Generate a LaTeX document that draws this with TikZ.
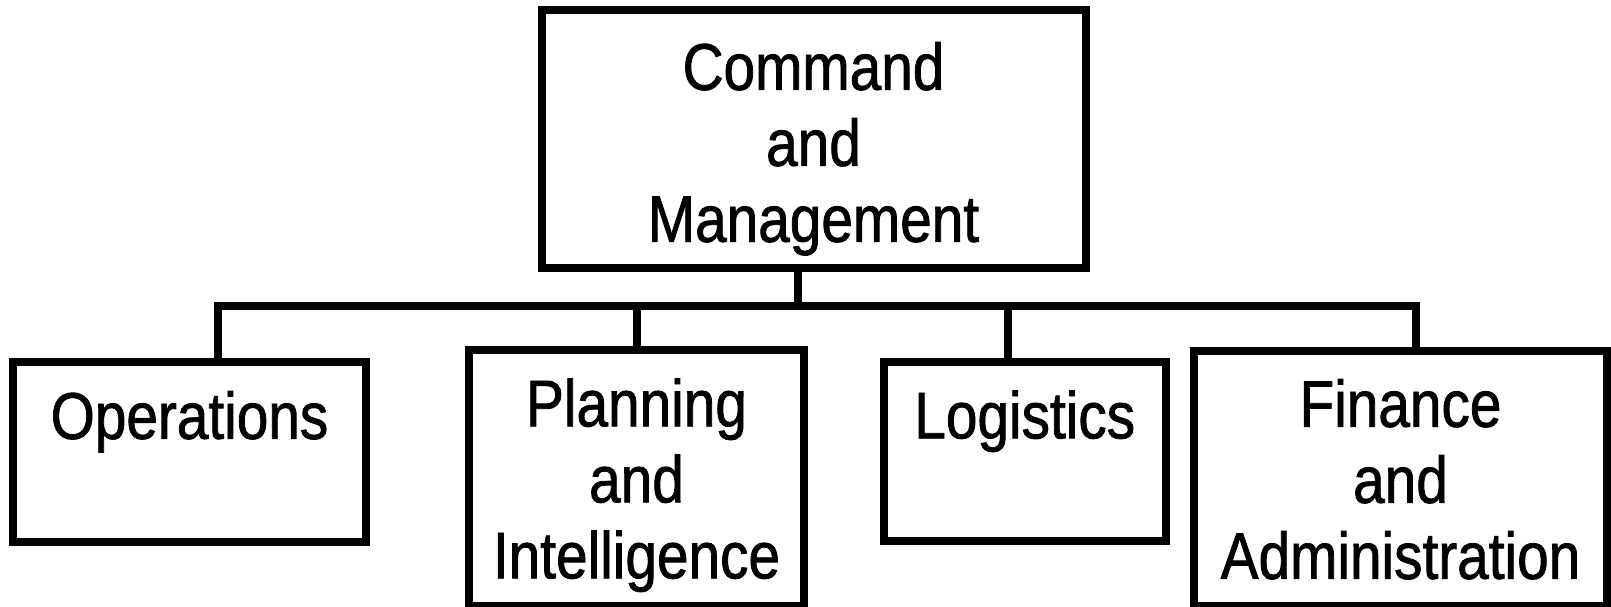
\documentclass[tikz,border=0pt]{standalone}
\usepackage{fontspec}
\setmainfont[FakeStretch=0.86,FakeBold=1.2]{Liberation Sans}
\usetikzlibrary{positioning}

\begin{document}
\begin{tikzpicture}[x=1pt,y=-1pt]
\tikzset{
  orgbox/.style={draw, line width=8pt, outer sep=0pt, inner sep=0pt},
  orgtext/.style={align=center, inner sep=0pt, outer sep=0pt, font=\fontsize{66pt}{76pt}\selectfont},
  wire/.style={line width=8pt}
}
\useasboundingbox (0,0) rectangle (1611,606);

% Boxes
\node [orgbox, minimum width=544pt, minimum height=257.5pt] (cmd) at (813.5,138.75) {};
\node [orgbox, minimum width=353pt, minimum height=179.5pt] (ops) at (189.5,451.75) {};
\node [orgbox, minimum width=335pt, minimum height=256pt] (plan) at (636.5,478) {};
\node [orgbox, minimum width=281.5pt, minimum height=179.5pt] (logi) at (1024.75,451.25) {};
\node [orgbox, minimum width=413pt, minimum height=255.5pt] (fin) at (1400.5,478.25) {};

% Text Nodes
\node [orgtext, below=32pt of cmd.north] (cmdtext) {Command\\and\\Management};
\node [orgtext, below=29pt of ops.north] (opstext) {Operations};
\node [orgtext, below=28.5pt of plan.north] (plantext) {Planning\\and\\Intelligence};
\node [orgtext, below=29pt of logi.north] (logitext) {Logistics};
\node [orgtext, below=28.5pt of fin.north] (fintext) {Finance\\and\\Administration};

% Straight Lines
\coordinate (bus) at (0,305.5);
\coordinate (cmddown) at ([xshift=-15.5pt]cmd.south);
\coordinate (opsup) at ([xshift=28.5pt]ops.north);
\coordinate (logiup) at ([xshift=-16.75pt]logi.north);
\coordinate (finup) at ([xshift=15pt]fin.north);
\draw [wire] (cmddown) -- (cmddown |- bus);
\draw [wire] (opsup) |- (bus -| finup) -- (finup);
\draw [wire] (plan.north) -- (plan.north |- bus);
\draw [wire] (logiup) -- (logiup |- bus);

\end{tikzpicture}
\end{document}
